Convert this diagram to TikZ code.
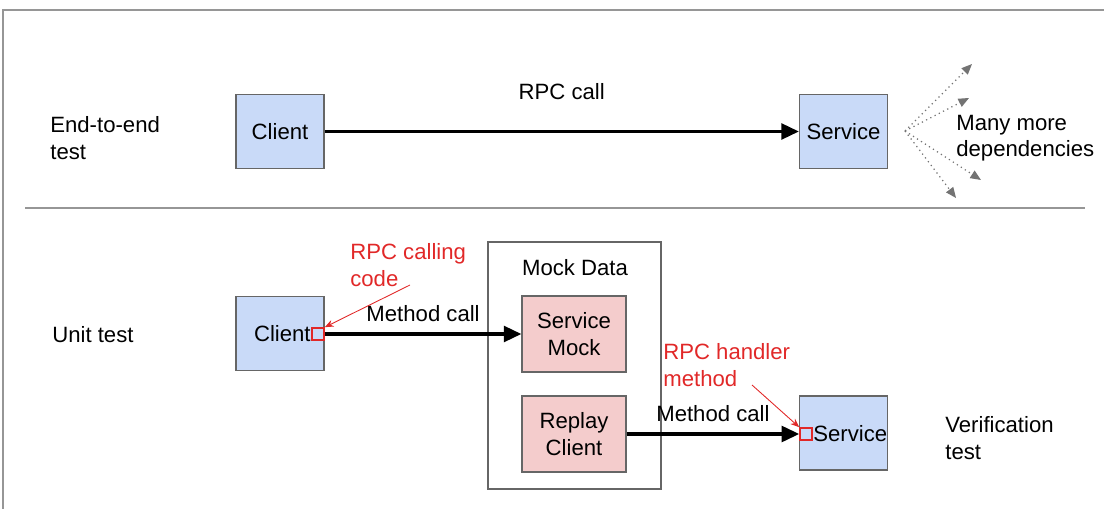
\documentclass[tikz,border=0pt]{standalone}
\usepackage{fontspec}
\setmainfont{Liberation Sans}
\usetikzlibrary{arrows.meta}
\definecolor{boxblue}{RGB}{201,218,248}
\definecolor{boxpink}{RGB}{244,204,204}
\definecolor{redtxt}{RGB}{225,40,40}
\definecolor{framegray}{RGB}{150,150,150}
\tikzset{
  txt/.style={font=\fontsize{12.6}{15}\selectfont},
  bluebox/.style={draw=black!60, fill=boxblue, line width=0.7pt, minimum width=88*0.02cm, minimum height=74*0.02cm, inner sep=0pt, txt, align=center},
  pinkbox/.style={draw=black!60, fill=boxpink, line width=0.7pt, minimum width=104*0.02cm, minimum height=76*0.02cm, inner sep=0pt, txt, align=center},
  lbl/.style={txt, align=left, inner sep=0pt, anchor=west},
  redlbl/.style={lbl, text=redtxt},
  bigarrow/.style={line width=1.8pt, -{Triangle[length=10pt,width=9pt]}},
  dotarrow/.style={draw=black!55, dotted, line width=0.7pt, -{Triangle[length=6pt,width=5pt]}},
  redarrow/.style={draw=redtxt, line width=0.5pt, -{Stealth[length=5pt,width=4pt]}},
  redsq/.style={draw=redtxt, line width=0.9pt, minimum size=12*0.02cm, inner sep=0pt, fill=none},
}
\begin{document}
\begin{tikzpicture}[x=0.02cm, y=-0.02cm]
\useasboundingbox (0,0) rectangle (1104,509);
% frame
\draw[framegray, line width=1.2pt] (3,509) -- (3,10) -- (1104,10);
\draw[framegray, line width=0.8pt] (25,208) -- (1085,208);

% top row
\node[lbl] (e2e) at (50,138) {End-to-end\\test};
\node[bluebox] (c1) at (280,131.5) {Client};
\node[bluebox] (s1) at (843.5,131.5) {Service};
\draw[bigarrow] (c1.east) -- (s1.west) node[midway, above=14pt, txt] (rpc) {RPC call};
\coordinate (dsrc) at (905,131);
\coordinate (d1) at (972,64);
\coordinate (d2) at (969,98);
\coordinate (d3) at (981,180);
\coordinate (d4) at (956,198);
\draw[dotarrow] (dsrc) -- (d1);
\draw[dotarrow] (dsrc) -- (d2);
\draw[dotarrow] (dsrc) -- (d3);
\draw[dotarrow] (dsrc) -- (d4);
\node[lbl] (many) at (956,138) {Many more\\dependencies};

% bottom row
\node[lbl] (unit) at (52,335) {Unit test};
\node[bluebox] (c2) at (280,333.5) {};
\node[txt, inner sep=0pt, anchor=east] (c2lbl) at (311,334) {Client};
\node[draw=black!60, line width=0.7pt, fill=white, minimum width=173*0.02cm, minimum height=247*0.02cm, inner sep=0pt] (mock) at (574.5,365.5) {};
\node[txt, inner sep=0pt] (mocklbl) at (575,268) {Mock Data};
\node[pinkbox] (sm) at (574,334) {Service\\Mock};
\node[pinkbox] (rc) at (574,434) {Replay\\Client};
\node[bluebox] (s2) at (843.5,433) {};
\node[txt, inner sep=0pt, anchor=west] (s2lbl) at (813,434) {Service};

\node[redsq] (sq1) at (318,334) {};
\node[redsq] (sq2) at (806,434) {};

\draw[bigarrow] (sq1.east) -- (sm.west) node[midway, above=3pt, txt] (mc1) {Method call};
\draw[bigarrow] (rc.east) -- (sq2.west) node[midway, above=3pt, txt] (mc2) {Method call};

\node[redlbl] (rpccall) at (350,265) {RPC calling\\code};
\node[redlbl] (rpchand) at (663,365) {RPC handler\\method};
\coordinate (ra1) at (410,285);
\coordinate (ra2) at (752,385);
\draw[redarrow] (ra1) -- (sq1.north east);
\draw[redarrow] (ra2) -- (sq2.north west);

\node[lbl] (verif) at (945,438) {Verification\\test};
\end{tikzpicture}
\end{document}
